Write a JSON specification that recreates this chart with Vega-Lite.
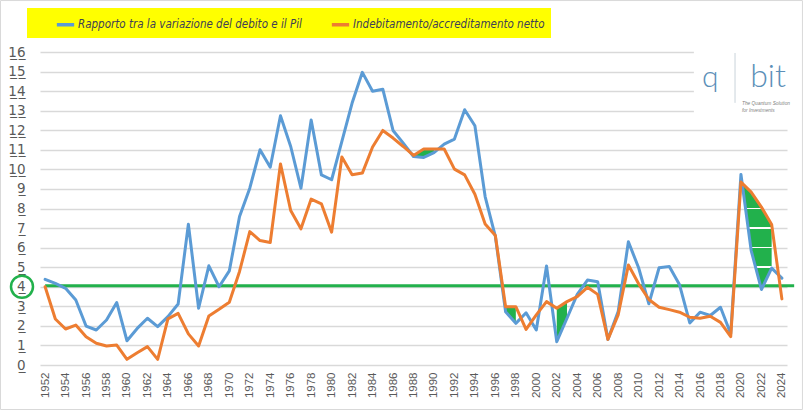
{
  "$schema": "https://vega.github.io/schema/vega-lite/v6.json",
  "width": 747,
  "height": 313,
  "autosize": "none",
  "padding": {"left": 40, "top": 52, "right": 16, "bottom": 45},
  "background": "white",
  "config": {"view": {"stroke": null}, "font": "Liberation Sans"},
  "resolve": {"axis": {"x": "independent", "y": "independent"}},
  "data": {
    "values": [
      {"anno": 1952, "rapporto": 4.38, "indebitamento": 4.0},
      {"anno": 1953, "rapporto": 4.17, "indebitamento": 2.35},
      {"anno": 1954, "rapporto": 3.92, "indebitamento": 1.84},
      {"anno": 1955, "rapporto": 3.32, "indebitamento": 2.04},
      {"anno": 1956, "rapporto": 1.99, "indebitamento": 1.45},
      {"anno": 1957, "rapporto": 1.79, "indebitamento": 1.11},
      {"anno": 1958, "rapporto": 2.3, "indebitamento": 0.97},
      {"anno": 1959, "rapporto": 3.19, "indebitamento": 1.02},
      {"anno": 1960, "rapporto": 1.24, "indebitamento": 0.29},
      {"anno": 1961, "rapporto": 1.87, "indebitamento": 0.63},
      {"anno": 1962, "rapporto": 2.39, "indebitamento": 0.94},
      {"anno": 1963, "rapporto": 1.96, "indebitamento": 0.29},
      {"anno": 1964, "rapporto": 2.47, "indebitamento": 2.36},
      {"anno": 1965, "rapporto": 3.12, "indebitamento": 2.64},
      {"anno": 1966, "rapporto": 7.2, "indebitamento": 1.59},
      {"anno": 1967, "rapporto": 2.9, "indebitamento": 0.97},
      {"anno": 1968, "rapporto": 5.07, "indebitamento": 2.51},
      {"anno": 1969, "rapporto": 4.0, "indebitamento": 2.85},
      {"anno": 1970, "rapporto": 4.81, "indebitamento": 3.21},
      {"anno": 1971, "rapporto": 7.59, "indebitamento": 4.78},
      {"anno": 1972, "rapporto": 9.04, "indebitamento": 6.82},
      {"anno": 1973, "rapporto": 11.0, "indebitamento": 6.36},
      {"anno": 1974, "rapporto": 10.11, "indebitamento": 6.26},
      {"anno": 1975, "rapporto": 12.74, "indebitamento": 10.28},
      {"anno": 1976, "rapporto": 11.17, "indebitamento": 7.9},
      {"anno": 1977, "rapporto": 9.04, "indebitamento": 6.96},
      {"anno": 1978, "rapporto": 12.52, "indebitamento": 8.48},
      {"anno": 1979, "rapporto": 9.72, "indebitamento": 8.24},
      {"anno": 1980, "rapporto": 9.47, "indebitamento": 6.79},
      {"anno": 1981, "rapporto": 11.43, "indebitamento": 10.63},
      {"anno": 1982, "rapporto": 13.39, "indebitamento": 9.72},
      {"anno": 1983, "rapporto": 14.96, "indebitamento": 9.81},
      {"anno": 1984, "rapporto": 13.99, "indebitamento": 11.14},
      {"anno": 1985, "rapporto": 14.1, "indebitamento": 11.99},
      {"anno": 1986, "rapporto": 11.99, "indebitamento": 11.6},
      {"anno": 1987, "rapporto": 11.34, "indebitamento": 11.17},
      {"anno": 1988, "rapporto": 10.66, "indebitamento": 10.71},
      {"anno": 1989, "rapporto": 10.61, "indebitamento": 11.04},
      {"anno": 1990, "rapporto": 10.86, "indebitamento": 11.04},
      {"anno": 1991, "rapporto": 11.29, "indebitamento": 11.04},
      {"anno": 1992, "rapporto": 11.55, "indebitamento": 10.01},
      {"anno": 1993, "rapporto": 13.05, "indebitamento": 9.72},
      {"anno": 1994, "rapporto": 12.23, "indebitamento": 8.73},
      {"anno": 1995, "rapporto": 8.61, "indebitamento": 7.21},
      {"anno": 1996, "rapporto": 6.57, "indebitamento": 6.62},
      {"anno": 1997, "rapporto": 2.72, "indebitamento": 2.98},
      {"anno": 1998, "rapporto": 2.13, "indebitamento": 2.98},
      {"anno": 1999, "rapporto": 2.67, "indebitamento": 1.82},
      {"anno": 2000, "rapporto": 1.79, "indebitamento": 2.56},
      {"anno": 2001, "rapporto": 5.06, "indebitamento": 3.24},
      {"anno": 2002, "rapporto": 1.19, "indebitamento": 2.9},
      {"anno": 2003, "rapporto": 2.39, "indebitamento": 3.24},
      {"anno": 2004, "rapporto": 3.61, "indebitamento": 3.49},
      {"anno": 2005, "rapporto": 4.34, "indebitamento": 3.97},
      {"anno": 2006, "rapporto": 4.26, "indebitamento": 3.61},
      {"anno": 2007, "rapporto": 1.31, "indebitamento": 1.31},
      {"anno": 2008, "rapporto": 2.73, "indebitamento": 2.56},
      {"anno": 2009, "rapporto": 6.3, "indebitamento": 5.11},
      {"anno": 2010, "rapporto": 4.97, "indebitamento": 4.15},
      {"anno": 2011, "rapporto": 3.13, "indebitamento": 3.35},
      {"anno": 2012, "rapporto": 4.97, "indebitamento": 2.95},
      {"anno": 2013, "rapporto": 5.03, "indebitamento": 2.83},
      {"anno": 2014, "rapporto": 4.1, "indebitamento": 2.7},
      {"anno": 2015, "rapporto": 2.15, "indebitamento": 2.44},
      {"anno": 2016, "rapporto": 2.7, "indebitamento": 2.39},
      {"anno": 2017, "rapporto": 2.53, "indebitamento": 2.49},
      {"anno": 2018, "rapporto": 2.95, "indebitamento": 2.18},
      {"anno": 2019, "rapporto": 1.6, "indebitamento": 1.45},
      {"anno": 2020, "rapporto": 9.74, "indebitamento": 9.35},
      {"anno": 2021, "rapporto": 5.85, "indebitamento": 8.84},
      {"anno": 2022, "rapporto": 3.86, "indebitamento": 8.07},
      {"anno": 2023, "rapporto": 4.95, "indebitamento": 7.18},
      {"anno": 2024, "rapporto": 4.44, "indebitamento": 3.38}
    ]
  },
  "layer": [
    {
      "data": {"values": [{}]},
      "mark": {"type": "rect", "fill": null, "stroke": "#d9d9d9", "strokeWidth": 1},
      "encoding": {
        "x": {"datum": 1947.64, "type": "quantitative", "axis": null},
        "x2": {"datum": 2026.01},
        "y": {"datum": 18.63, "type": "quantitative", "axis": null},
        "y2": {"datum": -2.275}
      }
    },
    {
      "data": {"values": [{}]},
      "mark": {"type": "rect", "fill": "white"},
      "encoding": {
        "x": {"datum": 2015.4, "type": "quantitative", "axis": null},
        "x2": {"datum": 2025},
        "y": {"datum": 12.55, "type": "quantitative", "axis": null},
        "y2": {"datum": 16.4}
      }
    },
    {
      "transform": [{"filter": "datum.anno >= 1988 && datum.anno <= 1990"}],
      "mark": {"type": "area", "color": "#22b14c"},
      "encoding": {
        "x": {"field": "anno", "type": "quantitative", "axis": null},
        "y": {"field": "rapporto", "type": "quantitative", "axis": null},
        "y2": {"field": "indebitamento"}
      }
    },
    {
      "transform": [{"filter": "datum.anno >= 1997 && datum.anno <= 1998"}],
      "mark": {"type": "area", "color": "#22b14c"},
      "encoding": {
        "x": {"field": "anno", "type": "quantitative", "axis": null},
        "y": {"field": "rapporto", "type": "quantitative", "axis": null},
        "y2": {"field": "indebitamento"}
      }
    },
    {
      "transform": [{"filter": "datum.anno >= 2002 && datum.anno <= 2003"}],
      "mark": {"type": "area", "color": "#22b14c"},
      "encoding": {
        "x": {"field": "anno", "type": "quantitative", "axis": null},
        "y": {"field": "rapporto", "type": "quantitative", "axis": null},
        "y2": {"field": "indebitamento"}
      }
    },
    {
      "transform": [{"filter": "datum.anno >= 2020 && datum.anno <= 2023"}],
      "mark": {
        "type": "area",
        "fill": {
          "gradient": "linear",
          "x1": 0, "y1": 0, "x2": 0, "y2": 1,
          "stops": [
            {"offset": 0, "color": "#22b14c"},
            {"offset": 0.289, "color": "#22b14c"},
            {"offset": 0.289, "color": "#ffffff"},
            {"offset": 0.302, "color": "#ffffff"},
            {"offset": 0.302, "color": "#22b14c"},
            {"offset": 0.459, "color": "#22b14c"},
            {"offset": 0.459, "color": "#ffffff"},
            {"offset": 0.472, "color": "#ffffff"},
            {"offset": 0.472, "color": "#22b14c"},
            {"offset": 0.629, "color": "#22b14c"},
            {"offset": 0.629, "color": "#ffffff"},
            {"offset": 0.642, "color": "#ffffff"},
            {"offset": 0.642, "color": "#22b14c"},
            {"offset": 0.799, "color": "#22b14c"},
            {"offset": 0.799, "color": "#ffffff"},
            {"offset": 0.812, "color": "#ffffff"},
            {"offset": 0.812, "color": "#22b14c"},
            {"offset": 1, "color": "#22b14c"}
          ]
        }
      },
      "encoding": {
        "x": {"field": "anno", "type": "quantitative", "axis": null},
        "y": {"field": "rapporto", "type": "quantitative", "axis": null},
        "y2": {"field": "indebitamento"}
      }
    },
    {
      "data": {"values": [{}]},
      "mark": {"type": "rule", "color": "#22b14c", "strokeWidth": 3},
      "encoding": {
        "x": {"datum": 1952, "type": "quantitative", "axis": null},
        "x2": {"datum": 2025.2},
        "y": {"datum": 4.05, "type": "quantitative", "axis": null}
      }
    },
    {
      "mark": {"type": "line", "strokeWidth": 3, "strokeJoin": "round", "strokeCap": "round"},
      "encoding": {
        "x": {
          "field": "anno",
          "type": "quantitative",
          "title": null,
          "scale": {"domain": [1951.5, 2024.5], "nice": false, "zero": false},
          "axis": {
            "values": [1952, 1954, 1956, 1958, 1960, 1962, 1964, 1966, 1968, 1970, 1972, 1974, 1976, 1978, 1980, 1982, 1984, 1986, 1988, 1990, 1992, 1994, 1996, 1998, 2000, 2002, 2004, 2006, 2008, 2010, 2012, 2014, 2016, 2018, 2020, 2022, 2024],
            "format": "d",
            "labelAngle": -90,
            "labelPadding": 7,
            "labelFontSize": 11.5,
            "labelColor": "#595959",
            "labelFont": "Liberation Sans",
            "labelOverlap": false,
            "grid": false,
            "domain": false,
            "ticks": false
          }
        },
        "y": {
          "field": "rapporto",
          "type": "quantitative",
          "title": null,
          "scale": {"domain": [0, 16], "nice": false},
          "axis": {
            "values": [0, 1, 2, 3, 4, 5, 6, 7, 8, 9, 10, 11, 12, 13, 14, 15, 16],
            "labelExpr": "replace(datum.label, /(\\d)/g, '$1̲')",
            "labelPadding": 15,
            "labelFontSize": 13.5,
            "labelColor": "#595959",
            "labelFont": "DejaVu Sans",
            "grid": true,
            "gridColor": "#d9d9d9",
            "gridWidth": 1.6,
            "domain": false,
            "ticks": false
          }
        },
        "color": {
          "datum": "rapporto",
          "scale": {"domain": ["rapporto", "indebitamento"], "range": ["#5b9bd5", "#ed7d31"]},
          "legend": {
            "title": null,
            "orient": "none",
            "legendX": -13,
            "legendY": -44,
            "direction": "horizontal",
            "fillColor": "#ffff00",
            "padding": 6,
            "symbolOffset": 22,
            "symbolType": "stroke",
            "symbolSize": 300,
            "symbolStrokeWidth": 3.5,
            "labelOffset": 2,
            "columnPadding": 6,
            "labelFont": "'Liberation Sans Narrow', 'DejaVu Sans Condensed', 'Roboto Condensed', 'Open Sans Condensed', Roboto",
            "labelFontStyle": "italic",
            "labelFontSize": 11.5,
            "labelColor": "#404055",
            "labelLimit": 0,
            "labelExpr": "datum.label == 'rapporto' ? 'Rapporto tra la variazione del debito e il Pil' : 'Indebitamento/accreditamento netto'"
          }
        }
      }
    },
    {
      "mark": {"type": "line", "strokeWidth": 3, "strokeJoin": "round", "strokeCap": "round"},
      "encoding": {
        "x": {"field": "anno", "type": "quantitative", "axis": null},
        "y": {"field": "indebitamento", "type": "quantitative", "axis": null},
        "color": {"datum": "indebitamento"}
      }
    },
    {
      "data": {"values": [{}]},
      "mark": {"type": "point", "shape": "circle", "filled": false, "stroke": "#22b14c", "strokeWidth": 2.5, "size": 484, "opacity": 1},
      "encoding": {
        "x": {"datum": 1949.74, "type": "quantitative", "axis": null},
        "y": {"datum": 4, "type": "quantitative", "axis": null}
      }
    },
    {
      "data": {"values": [{}]},
      "mark": {"type": "rule", "color": "#c9d3da", "strokeWidth": 1},
      "encoding": {
        "x": {"datum": 2019.42, "type": "quantitative", "axis": null},
        "y": {"datum": 13.4, "type": "quantitative", "axis": null},
        "y2": {"datum": 15.95}
      }
    },
    {
      "data": {"values": [{}]},
      "mark": {"type": "text", "text": "q", "font": "Lato", "fontWeight": 300, "fontSize": 30, "color": "#5b8fb8", "align": "center", "baseline": "alphabetic"},
      "encoding": {
        "x": {"datum": 2017.0, "type": "quantitative", "axis": null},
        "y": {"datum": 14.21, "type": "quantitative", "axis": null}
      }
    },
    {
      "data": {"values": [{}]},
      "mark": {"type": "text", "text": "bit", "font": "Lato", "fontWeight": 300, "fontSize": 32, "color": "#5b8fb8", "align": "left", "baseline": "alphabetic"},
      "encoding": {
        "x": {"datum": 2020.9, "type": "quantitative", "axis": null},
        "y": {"datum": 14.21, "type": "quantitative", "axis": null}
      }
    },
    {
      "data": {"values": [{}]},
      "mark": {"type": "text", "text": ["The Quantum Solution", "for Investments"], "font": "Liberation Sans", "fontStyle": "italic", "fontSize": 4.8, "lineHeight": 6.5, "color": "#7f7f7f", "align": "left", "baseline": "middle"},
      "encoding": {
        "x": {"datum": 2020.1, "type": "quantitative", "axis": null},
        "y": {"datum": 13.33, "type": "quantitative", "axis": null}
      }
    }
  ]
}
